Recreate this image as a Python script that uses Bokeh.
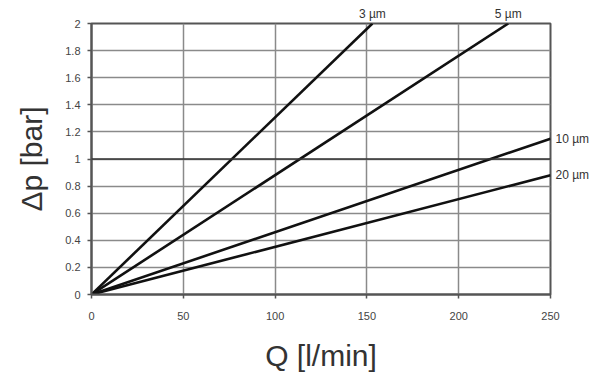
from bokeh.plotting import figure
from bokeh.models import Range1d, FixedTicker, Span, LinearAxis
from bokeh.embed import file_html
from bokeh.resources import INLINE

# Data
series_names = ["3 µm", "5 µm", "10 µm", "20 µm"]
q_3um = [0, 153]
dp_3um = [0, 2.0]
q_5um = [0, 227]
dp_5um = [0, 2.0]
q_10um = [0, 250]
dp_10um = [0, 1.15]
q_20um = [0, 250]
dp_20um = [0, 0.88]

x_ticks = [0, 50, 100, 150, 200, 250]
x_tick_labels = ["0", "50", "100", "150", "200", "250"]
y_ticks = [0, 0.2, 0.4, 0.6, 0.8, 1.0, 1.2, 1.4, 1.6, 1.8, 2.0]
y_tick_labels = ["0", "0.2", "0.4", "0.6", "0.8", "1", "1.2", "1.4", "1.6", "1.8", "2"]
emphasis_y = 1.0

FONT = "Liberation Sans"

p = figure(width=592, height=383, output_backend="svg", toolbar_location=None,
           x_range=Range1d(0, 250), y_range=Range1d(0, 2),
           min_border_left=91, min_border_right=42, min_border_top=23, min_border_bottom=89)
p.background_fill_color = "white"
p.border_fill_color = "white"
p.outline_line_color = "#555555"
p.outline_line_width = 2

for ax, ticks, labels in ((p.xaxis, x_ticks, x_tick_labels), (p.yaxis, y_ticks, y_tick_labels)):
    ax.ticker = FixedTicker(ticks=ticks)
    ax.major_label_overrides = {t: l for t, l in zip(ticks, labels)}
    ax.minor_tick_line_color = None
    ax.major_tick_in = 0
    ax.major_tick_out = 4
    ax.major_tick_line_color = "#555555"
    ax.major_tick_line_width = 1.5
    ax.axis_line_color = "#555555"
    ax.axis_line_width = 2
    ax.major_label_text_font = FONT
    ax.major_label_text_font_size = "11px"
    ax.major_label_text_color = "#444444"
    ax.axis_label_text_font = FONT
    ax.axis_label_text_font_style = "normal"
    ax.axis_label_text_font_size = "30px"
    ax.axis_label_text_color = "#333333"

p.xaxis.axis_label = "Q [l/min]"
p.yaxis.axis_label = "Δp [bar]"
p.xaxis.major_label_standoff = 13
p.xaxis.axis_label_standoff = 16
p.yaxis.major_label_standoff = 7
p.yaxis.axis_label_standoff = 14

for g in (p.xgrid, p.ygrid):
    g.grid_line_color = "#8a8a8a"
    g.grid_line_width = 1.5
p.xgrid.ticker = FixedTicker(ticks=x_ticks)
p.ygrid.ticker = FixedTicker(ticks=y_ticks)

p.add_layout(Span(location=emphasis_y, dimension="width", line_color="#333333", line_width=1.6))

for xs, ys in ((q_3um, dp_3um), (q_5um, dp_5um), (q_10um, dp_10um), (q_20um, dp_20um)):
    p.line(xs, ys, line_color="#111111", line_width=2.6)


def label_axis(ticks, names, standoff, align):
    ax = LinearAxis(ticker=FixedTicker(ticks=ticks),
                    major_label_overrides={t: n for t, n in zip(ticks, names)})
    ax.axis_line_color = None
    ax.major_tick_line_color = None
    ax.minor_tick_line_color = None
    ax.major_tick_in = 0
    ax.major_tick_out = 0
    ax.major_label_standoff = standoff
    ax.major_label_text_font = FONT
    ax.major_label_text_font_size = "12px"
    ax.major_label_text_color = "#333333"
    if align:
        ax.major_label_text_align = align
    return ax


# curve-end labels: top ends (3 µm, 5 µm) and right ends (10 µm, 20 µm)
top_axis = label_axis([q_3um[-1], q_5um[-1]], series_names[:2], 3, "left")
right_axis = label_axis([dp_10um[-1], dp_20um[-1]], series_names[2:], 5, None)
p.add_layout(top_axis, "above")
p.add_layout(right_axis, "right")

open("out.html", "w").write(file_html(p, INLINE))
